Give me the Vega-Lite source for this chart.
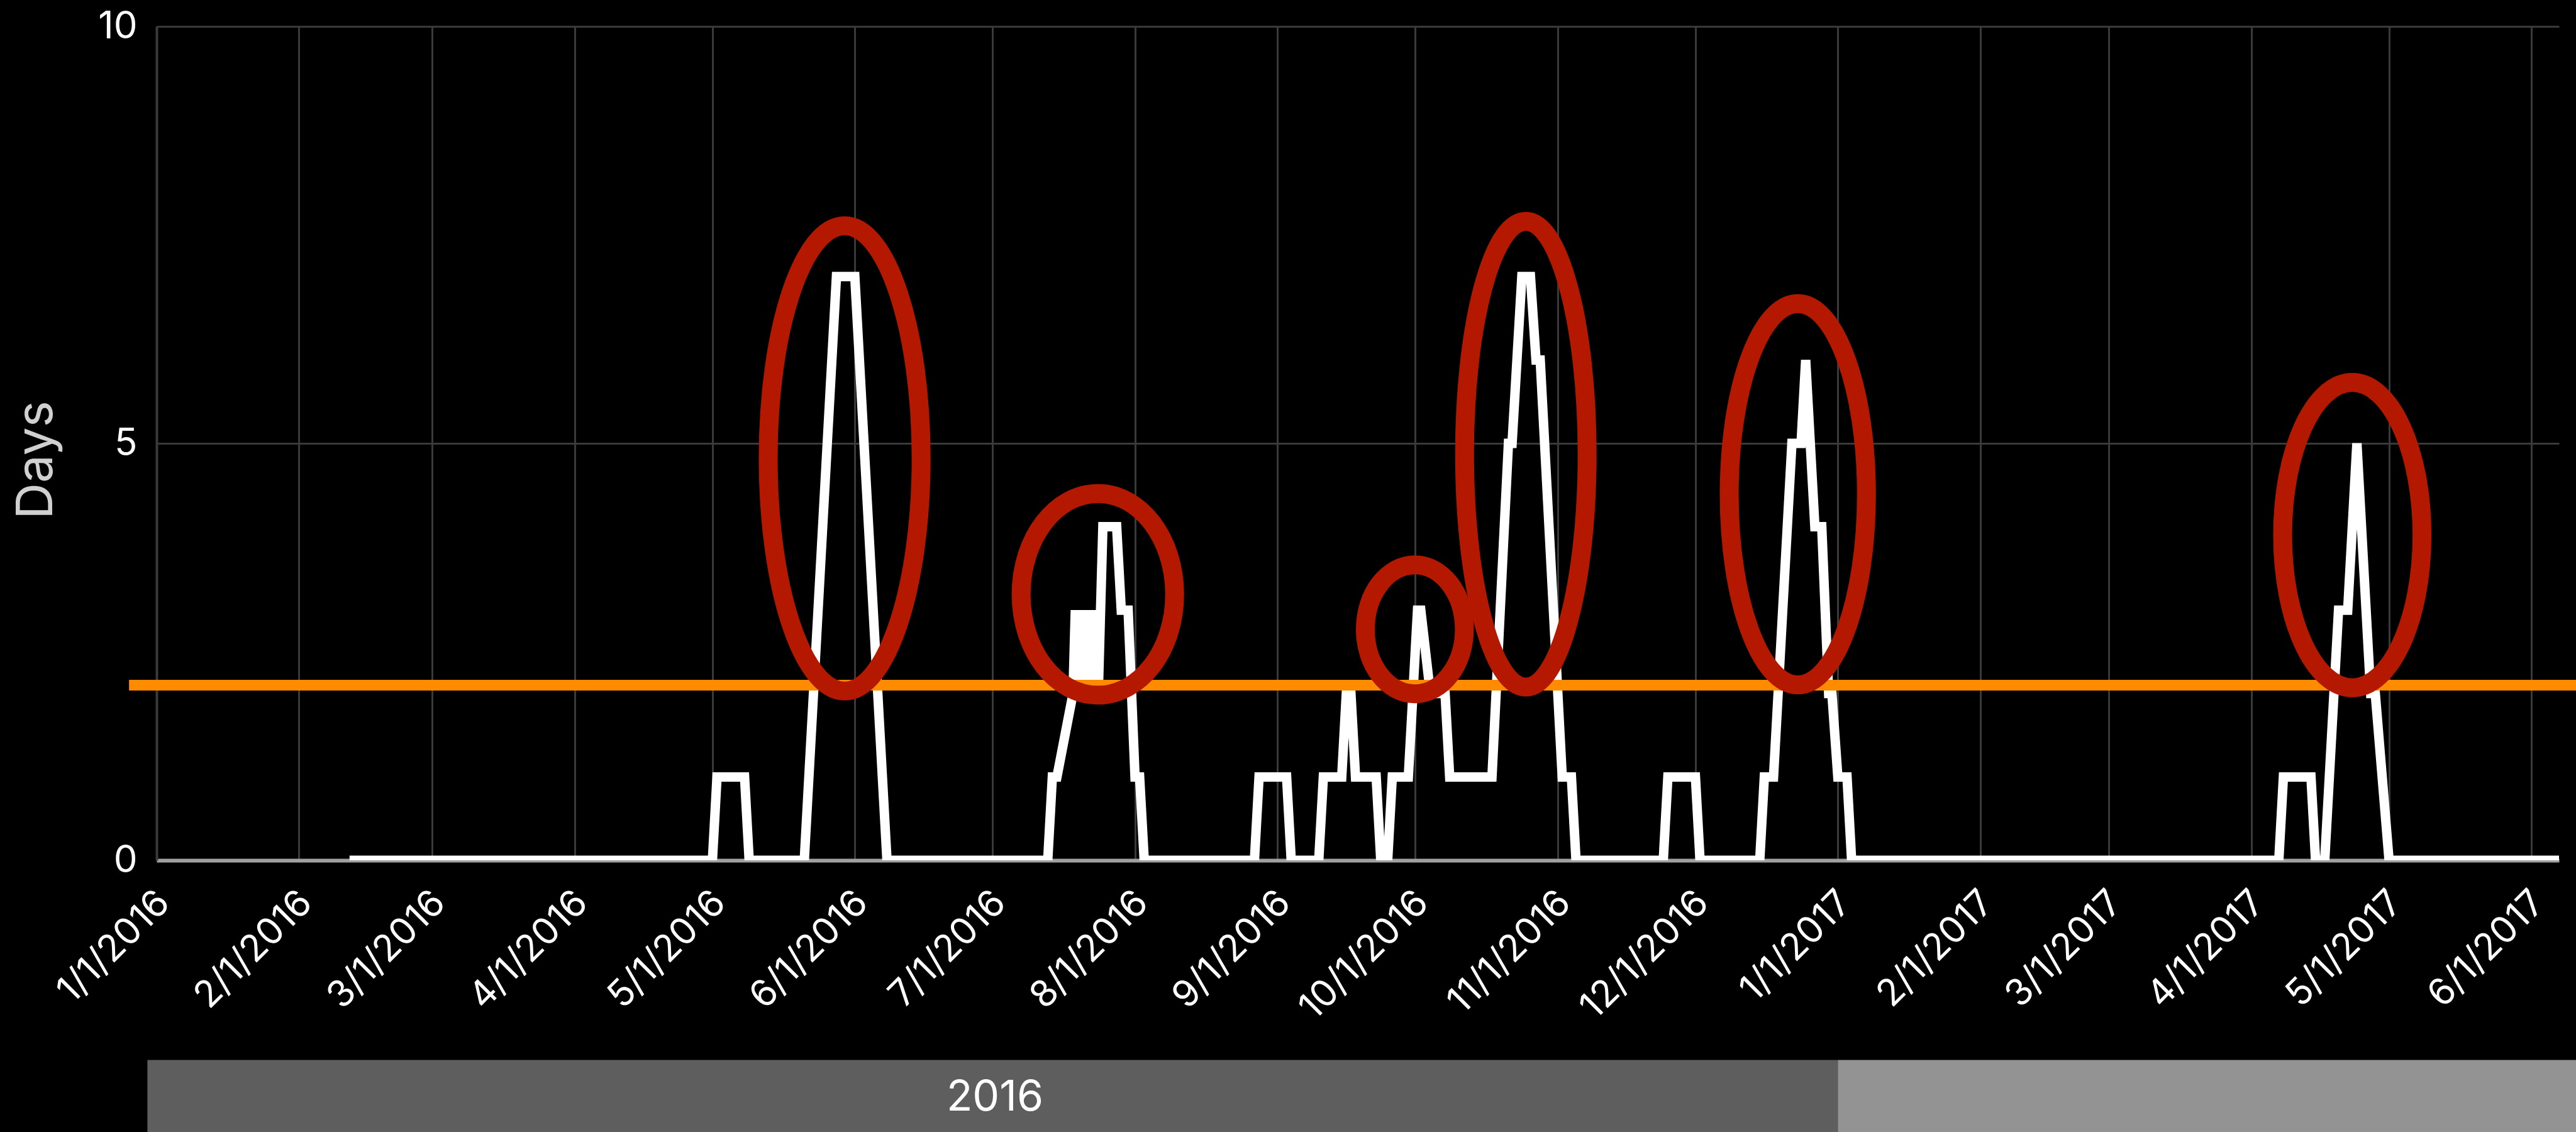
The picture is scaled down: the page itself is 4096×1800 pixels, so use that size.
{
  "$schema": "https://vega.github.io/schema/vega-lite/v6.json",
  "autosize": {"type": "none"},
  "padding": {"left": 249, "top": 42, "right": 27, "bottom": 432},
  "width": 3820,
  "height": 1326,
  "background": "#000000",
  "config": {"view": {"stroke": null}, "font": "Inter"},
  "datasets": {
    "days": [
      {"date": "2016-02-12T00:00", "days": 0},
      {"date": "2016-05-01T00:00", "days": 0},
      {"date": "2016-05-02T00:00", "days": 1},
      {"date": "2016-05-08T00:00", "days": 1},
      {"date": "2016-05-09T00:00", "days": 0},
      {"date": "2016-05-21T00:00", "days": 0},
      {"date": "2016-05-28T00:00", "days": 7},
      {"date": "2016-06-01T00:00", "days": 7},
      {"date": "2016-06-08T00:00", "days": 0},
      {"date": "2016-07-13T00:00", "days": 0},
      {"date": "2016-07-14T00:00", "days": 1},
      {"date": "2016-07-15T00:00", "days": 1},
      {"date": "2016-07-18T12:00", "days": 2},
      {"date": "2016-07-19T00:00", "days": 3},
      {"date": "2016-07-19T12:00", "days": 2},
      {"date": "2016-07-20T00:00", "days": 3},
      {"date": "2016-07-20T12:00", "days": 2},
      {"date": "2016-07-21T00:00", "days": 3},
      {"date": "2016-07-21T12:00", "days": 2},
      {"date": "2016-07-22T00:00", "days": 3},
      {"date": "2016-07-22T12:00", "days": 2},
      {"date": "2016-07-23T00:00", "days": 3},
      {"date": "2016-07-24T00:00", "days": 2},
      {"date": "2016-07-25T00:00", "days": 4},
      {"date": "2016-07-28T00:00", "days": 4},
      {"date": "2016-07-29T00:00", "days": 3},
      {"date": "2016-07-30T12:00", "days": 3},
      {"date": "2016-08-01T00:00", "days": 1},
      {"date": "2016-08-02T00:00", "days": 1},
      {"date": "2016-08-03T00:00", "days": 0},
      {"date": "2016-08-27T00:00", "days": 0},
      {"date": "2016-08-28T00:00", "days": 1},
      {"date": "2016-09-03T00:00", "days": 1},
      {"date": "2016-09-04T00:00", "days": 0},
      {"date": "2016-09-10T00:00", "days": 0},
      {"date": "2016-09-11T00:00", "days": 1},
      {"date": "2016-09-15T00:00", "days": 1},
      {"date": "2016-09-16T00:00", "days": 2},
      {"date": "2016-09-17T00:00", "days": 2},
      {"date": "2016-09-18T00:00", "days": 1},
      {"date": "2016-09-22T12:00", "days": 1},
      {"date": "2016-09-23T12:00", "days": 0},
      {"date": "2016-09-25T00:00", "days": 0},
      {"date": "2016-09-26T00:00", "days": 1},
      {"date": "2016-09-29T12:00", "days": 1},
      {"date": "2016-10-01T12:00", "days": 3},
      {"date": "2016-10-02T05:00", "days": 3},
      {"date": "2016-10-04T07:00", "days": 2},
      {"date": "2016-10-07T12:00", "days": 2},
      {"date": "2016-10-08T12:00", "days": 1},
      {"date": "2016-10-17T17:00", "days": 1},
      {"date": "2016-10-21T07:00", "days": 5},
      {"date": "2016-10-22T02:00", "days": 5},
      {"date": "2016-10-24T05:00", "days": 7},
      {"date": "2016-10-26T02:00", "days": 7},
      {"date": "2016-10-27T07:00", "days": 6},
      {"date": "2016-10-28T05:00", "days": 6},
      {"date": "2016-11-02T00:00", "days": 1},
      {"date": "2016-11-04T00:00", "days": 1},
      {"date": "2016-11-05T00:00", "days": 0},
      {"date": "2016-11-24T00:00", "days": 0},
      {"date": "2016-11-25T00:00", "days": 1},
      {"date": "2016-12-01T00:00", "days": 1},
      {"date": "2016-12-02T00:00", "days": 0},
      {"date": "2016-12-15T00:00", "days": 0},
      {"date": "2016-12-16T00:00", "days": 1},
      {"date": "2016-12-18T00:00", "days": 1},
      {"date": "2016-12-22T00:00", "days": 5},
      {"date": "2016-12-24T00:00", "days": 5},
      {"date": "2016-12-25T00:00", "days": 6},
      {"date": "2016-12-27T00:00", "days": 4},
      {"date": "2016-12-28T12:00", "days": 4},
      {"date": "2016-12-30T00:00", "days": 2},
      {"date": "2016-12-30T17:00", "days": 2},
      {"date": "2017-01-01T00:00", "days": 1},
      {"date": "2017-01-03T00:00", "days": 1},
      {"date": "2017-01-04T00:00", "days": 0},
      {"date": "2017-04-07T00:00", "days": 0},
      {"date": "2017-04-08T00:00", "days": 1},
      {"date": "2017-04-14T00:00", "days": 1},
      {"date": "2017-04-15T00:00", "days": 0},
      {"date": "2017-04-17T00:00", "days": 0},
      {"date": "2017-04-20T00:00", "days": 3},
      {"date": "2017-04-22T00:00", "days": 3},
      {"date": "2017-04-24T00:00", "days": 5},
      {"date": "2017-04-27T00:00", "days": 2},
      {"date": "2017-04-28T00:00", "days": 2},
      {"date": "2017-05-01T00:00", "days": 0},
      {"date": "2017-06-07T00:00", "days": 0}
    ],
    "threshold": [{"level": 2.1}],
    "peaks": [
      {"peak": "A", "date": "2016-05-29T19:00", "center": 4.82},
      {"peak": "B", "date": "2016-07-23T22:00", "center": 3.19},
      {"peak": "C", "date": "2016-09-30T22:00", "center": 2.77},
      {"peak": "D", "date": "2016-10-25T02:00", "center": 4.87},
      {"peak": "E", "date": "2016-12-23T07:00", "center": 4.39},
      {"peak": "F", "date": "2017-04-23T00:00", "center": 3.9}
    ],
    "years": [
      {"year": "2016", "start": "2015-12-30T00:00", "end": "2017-01-01T00:00"},
      {"year": "2017", "start": "2017-01-01T00:00", "end": "2017-06-12T00:00"}
    ]
  },
  "layer": [
    {
      "data": {"name": "days"},
      "mark": {"type": "line", "color": "#ffffff", "strokeWidth": 15, "strokeJoin": "miter", "strokeCap": "butt", "clip": true},
      "encoding": {
        "x": {
          "field": "date", "type": "temporal",
          "scale": {"domain": [{"year": 2016, "month": 1, "date": 1}, {"year": 2017, "month": 6, "date": 7}]},
          "axis": {
            "values": [
              {"year": 2016, "month": 1, "date": 1}, {"year": 2016, "month": 2, "date": 1}, {"year": 2016, "month": 3, "date": 1},
              {"year": 2016, "month": 4, "date": 1}, {"year": 2016, "month": 5, "date": 1}, {"year": 2016, "month": 6, "date": 1},
              {"year": 2016, "month": 7, "date": 1}, {"year": 2016, "month": 8, "date": 1}, {"year": 2016, "month": 9, "date": 1},
              {"year": 2016, "month": 10, "date": 1}, {"year": 2016, "month": 11, "date": 1}, {"year": 2016, "month": 12, "date": 1},
              {"year": 2017, "month": 1, "date": 1}, {"year": 2017, "month": 2, "date": 1}, {"year": 2017, "month": 3, "date": 1},
              {"year": 2017, "month": 4, "date": 1}, {"year": 2017, "month": 5, "date": 1}, {"year": 2017, "month": 6, "date": 1}
            ],
            "format": "%-m/%-d/%Y",
            "labelAngle": -45, "labelAlign": "right", "labelBaseline": "middle",
            "labelPadding": 58, "labelOffset": 11, "labelLimit": 0,
            "labelColor": "#ffffff", "labelFontSize": 59, "labelFont": "Inter",
            "labelFlush": false, "labelOverlap": false,
            "ticks": false, "tickSize": 0,
            "grid": true, "gridColor": "#3a3a3a", "gridWidth": 3,
            "domain": true, "domainColor": "#a0a0a0", "domainWidth": 6,
            "title": null
          }
        },
        "y": {
          "field": "days", "type": "quantitative",
          "scale": {"domain": [0, 10]},
          "axis": {
            "values": [0, 5, 10], "format": "d",
            "labelColor": "#ffffff", "labelFontSize": 60, "labelFont": "Inter", "labelPadding": 31,
            "ticks": false, "tickSize": 0,
            "grid": true, "gridColor": "#3a3a3a", "gridWidth": 3,
            "domain": true, "domainColor": "#3a3a3a", "domainWidth": 4,
            "title": "Days", "titleColor": "#d0d0d0", "titleFontSize": 80, "titleFont": "Inter",
            "titleFontWeight": "normal", "titlePadding": 56, "titleY": 689
          }
        }
      }
    },
    {
      "data": {"name": "threshold"},
      "mark": {"type": "rule", "color": "#ff8c00", "strokeWidth": 17},
      "encoding": {
        "x": {"datum": {"year": 2015, "month": 12, "date": 26}, "type": "temporal"},
        "x2": {"datum": {"year": 2017, "month": 6, "date": 12}},
        "y": {"field": "level", "type": "quantitative"}
      }
    },
    {
      "data": {"name": "peaks"},
      "mark": {"type": "point", "filled": false, "color": "#b41900", "strokeWidth": 30, "size": 1000000, "opacity": 1},
      "encoding": {
        "x": {"field": "date", "type": "temporal"},
        "y": {"field": "center", "type": "quantitative"},
        "shape": {
          "field": "peak", "type": "nominal", "legend": null,
          "scale": {
            "domain": ["A", "B", "C", "D", "E", "F"],
            "range": [
              "M 0 -0.7398 C 0.1343 -0.7398 0.2432 -0.4086 0.2432 0 C 0.2432 0.4086 0.1343 0.7398 0 0.7398 C -0.1343 0.7398 -0.2432 0.4086 -0.2432 0 C -0.2432 -0.4086 -0.1343 -0.7398 0 -0.7398 Z",
              "M 0 -0.3207 C 0.1348 -0.3207 0.2441 -0.1771 0.2441 0 C 0.2441 0.1771 0.1348 0.3207 0 0.3207 C -0.1348 0.3207 -0.2441 0.1771 -0.2441 0 C -0.2441 -0.1771 -0.1348 -0.3207 0 -0.3207 Z",
              "M 0 -0.2049 C 0.0869 -0.2049 0.1574 -0.1132 0.1574 0 C 0.1574 0.1132 0.0869 0.2049 0 0.2049 C -0.0869 0.2049 -0.1574 0.1132 -0.1574 0 C -0.1574 -0.1132 -0.0869 -0.2049 0 -0.2049 Z",
              "M 0 -0.7405 C 0.1076 -0.7405 0.1949 -0.409 0.1949 0 C 0.1949 0.409 0.1076 0.7405 0 0.7405 C -0.1076 0.7405 -0.1949 0.409 -0.1949 0 C -0.1949 -0.409 -0.1076 -0.7405 0 -0.7405 Z",
              "M 0 -0.6064 C 0.1205 -0.6064 0.2182 -0.3349 0.2182 0 C 0.2182 0.3349 0.1205 0.6064 0 0.6064 C -0.1205 0.6064 -0.2182 0.3349 -0.2182 0 C -0.2182 -0.3349 -0.1205 -0.6064 0 -0.6064 Z",
              "M 0 -0.4856 C 0.1224 -0.4856 0.2216 -0.2682 0.2216 0 C 0.2216 0.2682 0.1224 0.4856 0 0.4856 C -0.1224 0.4856 -0.2216 0.2682 -0.2216 0 C -0.2216 -0.2682 -0.1224 -0.4856 0 -0.4856 Z"
            ]
          }
        }
      }
    },
    {
      "data": {"name": "years"},
      "mark": {"type": "rect"},
      "encoding": {
        "x": {"field": "start", "type": "temporal"},
        "x2": {"field": "end"},
        "y": {"datum": -2.395, "type": "quantitative"},
        "y2": {"datum": -3.6},
        "color": {"field": "year", "type": "nominal", "scale": {"domain": ["2016", "2017"], "range": ["#5e5e5e", "#939393"]}, "legend": null}
      }
    },
    {
      "data": {"name": "years"},
      "transform": [{"filter": "datum.year == '2016'"}],
      "mark": {"type": "text", "color": "#ffffff", "font": "Inter", "fontSize": 68, "align": "center", "baseline": "middle"},
      "encoding": {
        "x": {"datum": {"year": 2016, "month": 7, "date": 1, "hours": 12}, "type": "temporal"},
        "y": {"datum": -2.85, "type": "quantitative"},
        "text": {"field": "year"}
      }
    }
  ]
}
